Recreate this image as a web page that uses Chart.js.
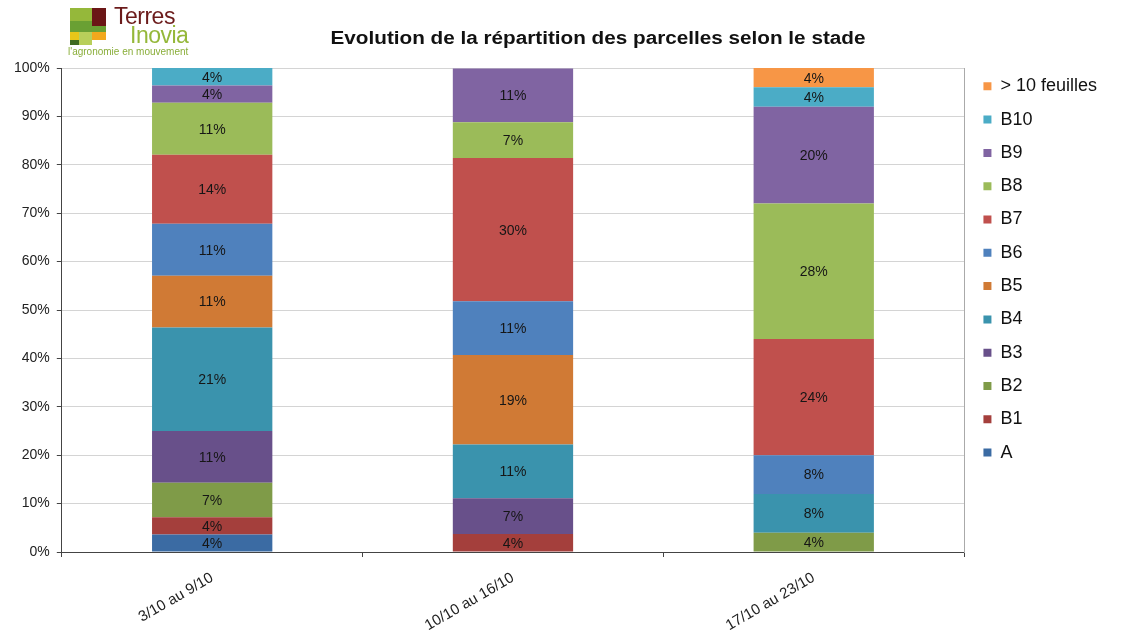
<!DOCTYPE html>
<html>
<head>
<meta charset="utf-8">
<script src="https://cdn.jsdelivr.net/npm/chart.js@4.4.1/dist/chart.umd.min.js"></script>
<style>
  html, body { margin: 0; padding: 0; background: #fff; }
  #wrap { position: relative; width: 1121px; height: 635px; }
  #c { position: absolute; left: 0; top: 0; }
  .title { position: absolute; top: 28px; left: 598px; transform: translateX(-50%) scaleX(1.15); white-space: nowrap; font: bold 18px "Liberation Sans", Arial, sans-serif; color: #111; }
  .logo div { position: absolute; }
  .lt { position: absolute; font-family: "Liberation Sans", Arial, sans-serif; white-space: nowrap; }
</style>
</head>
<body>
<div id="wrap">
  <canvas id="c" width="1121" height="635"></canvas>
  <div class="title">Evolution de la répartition des parcelles selon le stade</div>
  <div class="logo">
    <div style="left:70px;top:8px;width:22px;height:13px;background:#95B83A"></div>
    <div style="left:92px;top:8px;width:14px;height:18px;background:#6B1616"></div>
    <div style="left:70px;top:21px;width:22px;height:5px;background:#6AA033"></div>
    <div style="left:70px;top:26px;width:36px;height:6px;background:#6AA033"></div>
    <div style="left:70px;top:32px;width:9px;height:8px;background:#E6C619"></div>
    <div style="left:79px;top:32px;width:13px;height:13px;background:#B8CF5A"></div>
    <div style="left:92px;top:32px;width:14px;height:8px;background:#F2A81D"></div>
    <div style="left:70px;top:40px;width:9px;height:5px;background:#3E6B1F"></div>
    <div style="left:92px;top:40px;width:14px;height:5px;background:#fff"></div>
    <div class="lt" style="left:114px;top:3px;font-size:23px;color:#6B1A1A;letter-spacing:-0.5px">Terres</div>
    <div class="lt" style="left:130px;top:22px;font-size:23px;color:#95B83A;letter-spacing:-0.5px">Inovia</div>
    <div class="lt" style="left:68px;top:46px;font-size:10px;color:#8AAE3A">l'agronomie en mouvement</div>
  </div>
</div>
<script>
const categories = ['3/10 au 9/10', '10/10 au 16/10', '17/10 au 23/10'];
const seriesNames = ['A', 'B1', 'B2', 'B3', 'B4', 'B5', 'B6', 'B7', 'B8', 'B9', 'B10', '> 10 feuilles'];
const seriesColors = ['#3B6BA3', '#A43F3C', '#7F9B48', '#68508A', '#3A93AD', '#D07A35',
                      '#4F81BD', '#C0504D', '#9BBB59', '#8064A2', '#4BACC6', '#F79646'];
const valA   = [3.6, 0, 0];
const valB1  = [3.6, 3.7, 0];
const valB2  = [7.1, 0, 4];
const valB3  = [10.7, 7.4, 0];
const valB4  = [21.4, 11.1, 8];
const valB5  = [10.7, 18.5, 0];
const valB6  = [10.7, 11.1, 8];
const valB7  = [14.3, 29.6, 24];
const valB8  = [10.7, 7.4, 28];
const valB9  = [3.6, 11.1, 20];
const valB10 = [3.6, 0, 4];
const valB11 = [0, 0, 4];
const yTicks = [0, 10, 20, 30, 40, 50, 60, 70, 80, 90, 100];

const seriesValues = [valA, valB1, valB2, valB3, valB4, valB5, valB6, valB7, valB8, valB9, valB10, valB11];
const FONT = '"Liberation Sans", Arial, sans-serif';

const datasets = seriesNames.map((n, i) => ({
  label: n,
  data: seriesValues[i],
  backgroundColor: seriesColors[i],
  borderWidth: 0,
  barPercentage: 0.4,
  categoryPercentage: 1.0
}));

const valueLabels = {
  id: 'valueLabels',
  afterDatasetsDraw(chart) {
    const ctx = chart.ctx;
    ctx.save();
    ctx.font = '14px ' + FONT;
    ctx.fillStyle = '#161616';
    ctx.textAlign = 'center';
    ctx.textBaseline = 'middle';
    chart.data.datasets.forEach((ds, di) => {
      const meta = chart.getDatasetMeta(di);
      meta.data.forEach((el, i) => {
        const v = ds.data[i];
        if (!v) return;
        const p = el.getProps(['x', 'y', 'base'], true);
        ctx.fillText(Math.round(v) + '%', p.x, (p.y + p.base) / 2 + 1);
      });
    });
    ctx.restore();
  }
};

new Chart(document.getElementById('c'), {
  type: 'bar',
  data: { labels: categories, datasets },
  plugins: [valueLabels],
  options: {
    responsive: false,
    animation: false,
    layout: { padding: { top: 62, left: 7, right: 14, bottom: 4 } },
    plugins: {
      title: { display: false },
      tooltip: { enabled: false },
      legend: {
        position: 'right',
        align: 'start',
        reverse: true,
        labels: {
          boxWidth: 8, boxHeight: 8, padding: 15.3,
          color: '#111',
          font: { size: 18, family: FONT }
        }
      }
    },
    scales: {
      x: {
        stacked: true,
        grid: { display: true, drawOnChartArea: false, drawTicks: true, tickLength: 5, color: '#444', offset: true },
        border: { display: true, color: '#444', width: 1 },
        ticks: { color: '#222', font: { size: 15, family: FONT }, minRotation: 30, maxRotation: 30, padding: 12 },
        afterFit(s) { s.height = 79; }
      },
      xTop: {
        type: 'linear', position: 'top', display: true,
        grid: { display: false }, border: { display: false }, ticks: { display: false },
        afterFit(s) { s.height = 6; }
      },
      y: {
        stacked: true, min: 0, max: 100,
        afterBuildTicks(s) { s.ticks = yTicks.map(v => ({ value: v })); },
        grid: { color: '#d4d4d4', tickLength: 5, tickColor: '#444' },
        border: { display: true, color: '#444', width: 1 },
        ticks: { color: '#222', font: { size: 14, family: FONT }, padding: 7, callback: v => v + '%' }
      },
      yRight: {
        type: 'linear', position: 'right', display: true, min: 0, max: 100,
        grid: { display: false }, border: { display: true, color: '#aaa', width: 1 }, ticks: { display: false },
        afterFit(s) { s.width = 4; }
      }
    }
  }
});
</script>
</body>
</html>
